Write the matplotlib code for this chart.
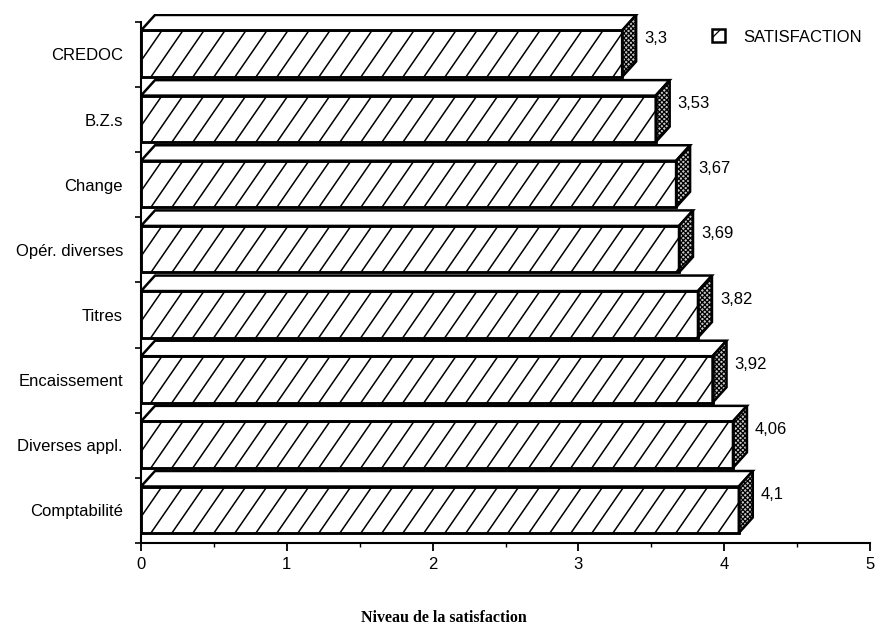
import numpy as np
import matplotlib.pyplot as plt
from matplotlib.patches import Polygon, Patch

# Satisfaction level per department, listed top to bottom
categories = ['CREDOC', 'B.Z.s', 'Change', 'Opér. diverses', 'Titres',
              'Encaissement', 'Diverses appl.', 'Comptabilité']
satisfaction = [3.3, 3.53, 3.67, 3.69, 3.82, 3.92, 4.06, 4.1]
x_ticks = [0, 1, 2, 3, 4, 5]

plt.rcParams['font.family'] = ['Liberation Sans', 'DejaVu Sans']
plt.rcParams['hatch.linewidth'] = 0.9

fig = plt.figure(figsize=(8.77, 6.32), dpi=100)
ax = fig.add_axes([141 / 877, 89 / 632, 729 / 877, 529 / 632])
ax.set_xlim(0, 5)
ax.set_ylim(0, 8.12)

# size of one pixel in data units, used for the 3D offsets
px_x = 5 / 729
px_y = 8.12 / 529
dx, dy = 14 * px_x, 15.5 * px_y
base, height = 10 * px_y, 46.5 * px_y
lw = 1.8

# hatch lines on the front faces
slope = 1.45 * (729 / 5) / (529 / 8.12)
step = 21 * px_x

for i, (name, val) in enumerate(zip(categories[::-1], satisfaction[::-1])):
    y0 = i + base
    y1 = y0 + height
    front = Polygon([(0, y0), (val, y0), (val, y1), (0, y1)], closed=True,
                    fc='white', ec='black', lw=lw, zorder=3)
    top = Polygon([(0, y1), (val, y1), (val + dx, y1 + dy), (dx, y1 + dy)],
                  closed=True, fc='white', ec='black', lw=lw, zorder=3)
    side = Polygon([(val, y0), (val + dx, y0 + dy), (val + dx, y1 + dy), (val, y1)],
                   closed=True, fc='#c8c8c8', ec='black', hatch='xxxxxxx', lw=lw, zorder=3)
    ax.add_patch(front)
    ax.add_patch(top)
    ax.add_patch(side)

    for c in np.arange(-height / slope, val, step):
        ln, = ax.plot([c, c + height / slope], [y0, y1], color='black',
                      lw=1.1, zorder=4)
        ln.set_clip_path(front)
    # redraw the outline above the hatching
    ax.add_patch(Polygon(front.get_xy(), closed=True, fill=False, ec='black',
                         lw=lw, zorder=5))

    ax.text(val + dx + 8 * px_x, y1 - 8 * px_y, f'{val:g}'.replace('.', ','),
            ha='left', va='center', fontsize=12)

# axes styling
for s in ['top', 'right']:
    ax.spines[s].set_visible(False)
for s in ['left', 'bottom']:
    ax.spines[s].set_linewidth(1.5)
ax.spines['left'].set_bounds(0, 8)

ax.set_xticks(x_ticks)
ax.set_xticklabels([str(t) for t in x_ticks], fontsize=12)
ax.set_xticks(np.arange(0.5, 5, 1), minor=True)
ax.tick_params(axis='x', which='major', direction='out', length=6, width=1.3, pad=4)
ax.tick_params(axis='x', which='minor', direction='out', length=3, width=1.0)

ax.set_yticks(range(9))
ax.set_yticklabels([])
ax.set_yticks(np.arange(0.5, 8, 1), minor=True)
ax.set_yticklabels(categories[::-1], minor=True, fontsize=12)
ax.tick_params(axis='y', which='major', direction='out', length=4, width=1.2)
ax.tick_params(axis='y', which='minor', length=0, pad=13)

ax.legend(handles=[Patch(facecolor='white', edgecolor='black', hatch='//', lw=1.8,
                         label='SATISFACTION')],
          loc='center left', bbox_to_anchor=(712 / 877, 1 - 37 / 632),
          bbox_transform=fig.transFigure, frameon=False, fontsize=12,
          handlelength=0.8, handleheight=0.8, handletextpad=1.1,
          borderpad=0, borderaxespad=0)

fig.text(444 / 877, 1 - 618 / 632, 'Niveau de la satisfaction',
         family=['Liberation Serif', 'DejaVu Serif'], weight='bold', fontsize=11.5,
         ha='center', va='center')

fig.savefig('out.png', dpi=100)
